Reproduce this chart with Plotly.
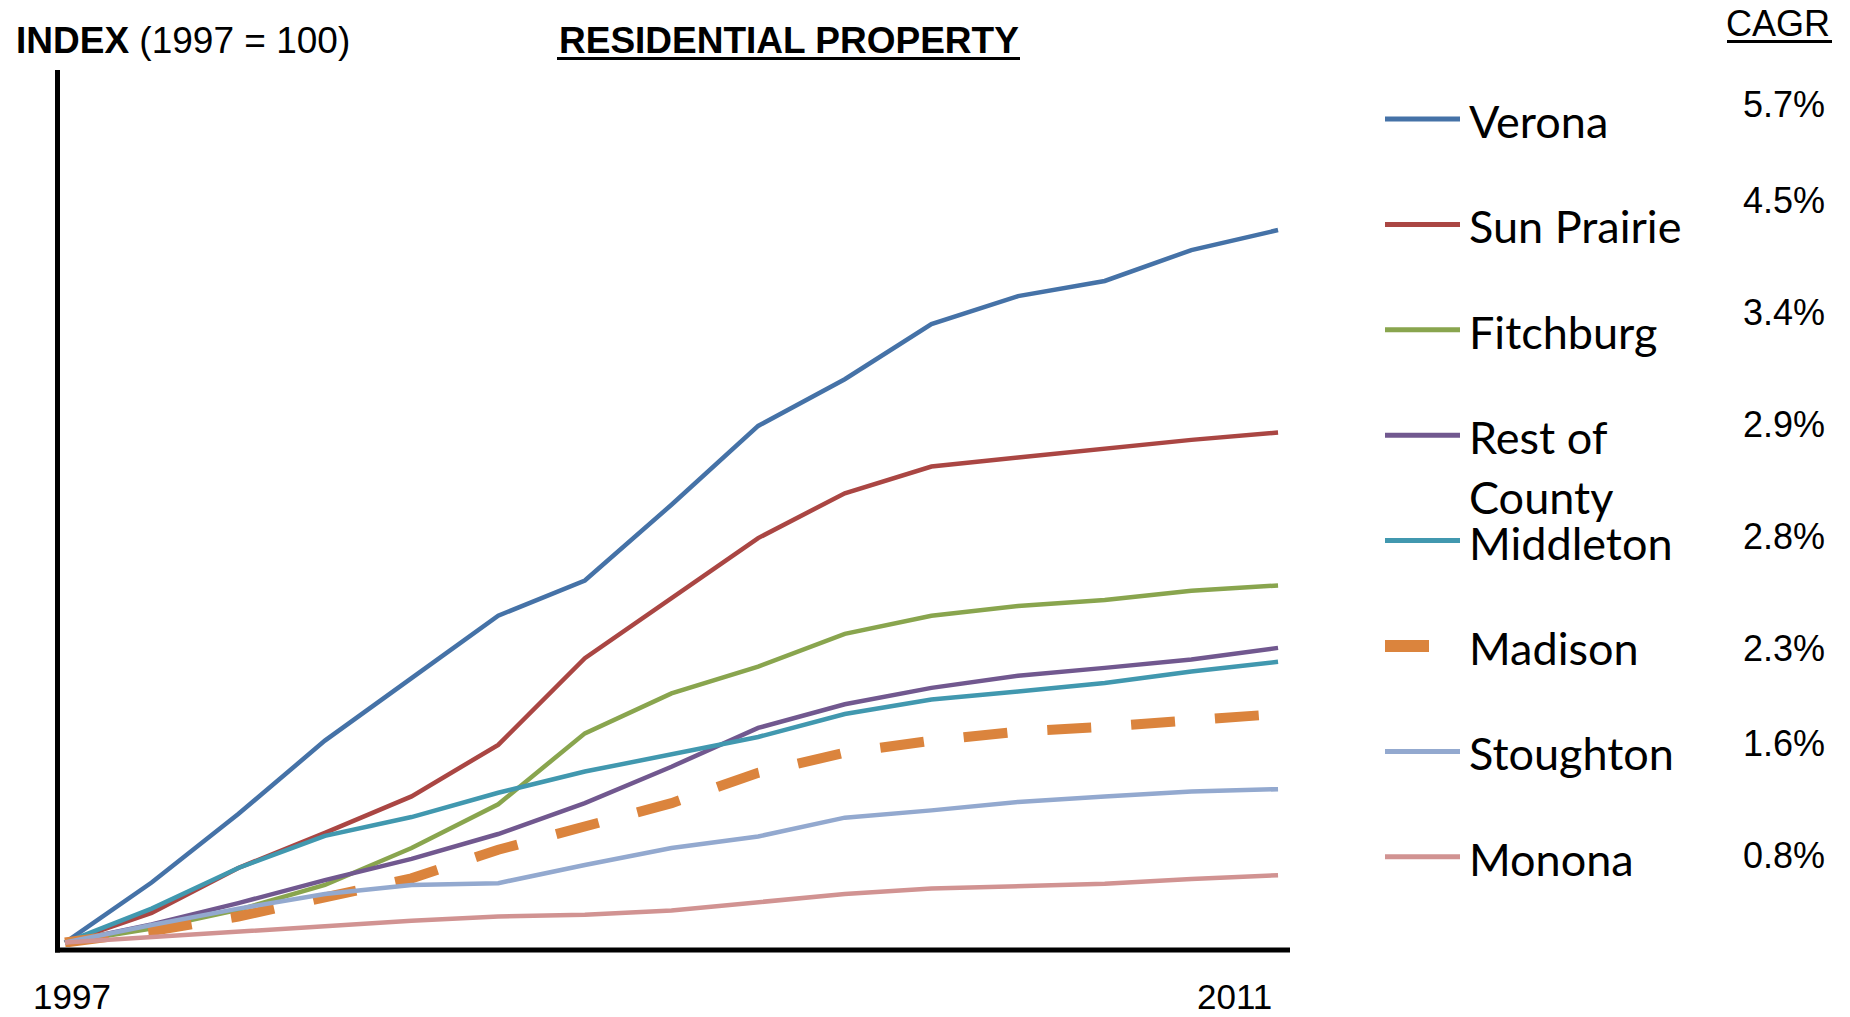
import plotly.graph_objects as go

# ---- data -------------------------------------------------------------
years = list(range(1997, 2012))
year_labels = ["1997", "2011"]

series_names = ["Verona", "Sun Prairie", "Fitchburg", "Rest of County",
                "Middleton", "Madison", "Stoughton", "Monona"]

verona = [100, 109.9, 121.2, 133.3, 143.6, 153.9, 159.7, 172.2, 185.2,
          192.9, 202.0, 206.6, 209.1, 214.2, 217.5]
sun_prairie = [100, 104.9, 112.3, 118.1, 124.1, 132.6, 146.9, 156.8, 166.7,
               174.1, 178.5, 180.0, 181.5, 182.9, 184.1]
fitchburg = [100, 102.3, 105.4, 109.5, 115.6, 122.8, 134.5, 141.1, 145.5,
             150.9, 153.9, 155.5, 156.5, 158.0, 158.9]
rest_of_county = [100, 103.0, 106.5, 110.3, 113.8, 117.9, 123.0, 129.0, 135.4,
                  139.3, 142.0, 144.0, 145.3, 146.7, 148.6]
middleton = [100, 105.6, 112.3, 117.6, 120.7, 124.7, 128.2, 131.1, 133.9,
             137.7, 140.1, 141.4, 142.8, 144.7, 146.3]
madison = [100, 101.9, 104.3, 107.6, 110.6, 115.3, 119.1, 123.0, 128.0,
           131.3, 133.3, 134.8, 135.6, 136.6, 137.7]
stoughton = [100, 102.9, 105.6, 108.0, 109.5, 109.8, 112.8, 115.6, 117.5,
             120.6, 121.8, 123.2, 124.1, 124.9, 125.3]
monona = [100, 100.9, 101.8, 102.7, 103.6, 104.3, 104.6, 105.3, 106.6,
          108.0, 108.9, 109.3, 109.7, 110.5, 111.1]

series_values = [verona, sun_prairie, fitchburg, rest_of_county,
                 middleton, madison, stoughton, monona]

# ---- styling ----------------------------------------------------------
colors = ["#4572A7", "#AA4643", "#89A54E", "#71588F",
          "#4198AF", "#DB843D", "#93A9CF", "#D19392"]
ARIAL = "Liberation Sans, Arial, sans-serif"
LEGEND_FONT = "Lato, Calibri, sans-serif"

W, H = 1850, 1017
L, R, T, B = 57, 1288, 73, 947  # plot area in pixels


def px(x):
    return (x - L) / (R - L)


def py(y):
    return (B - y) / (B - T)


fig = go.Figure()
for name, vals, col in zip(series_names, series_values, colors):
    dashed = name == "Madison"
    fig.add_trace(go.Scatter(
        x=years, y=vals, name=name, mode="lines",
        line=dict(color=col, width=10 if dashed else 4.5,
                  dash="44px,40px" if dashed else "solid"),
        showlegend=False,
    ))

shapes = []
annotations = []

# axis lines
shapes.append(dict(type="line", xref="paper", yref="paper",
                   x0=px(57.5), x1=px(57.5), y0=py(70), y1=py(952.5),
                   line=dict(color="black", width=5), layer="above"))
shapes.append(dict(type="line", xref="paper", yref="paper",
                   x0=px(55), x1=px(1290), y0=py(950), y1=py(950),
                   line=dict(color="black", width=5), layer="above"))

# headings
annotations.append(dict(text="<b>INDEX</b> (1997 = 100)", x=px(14), y=py(40),
                        xref="paper", yref="paper", xanchor="left",
                        yanchor="middle", showarrow=False,
                        font=dict(family=ARIAL, size=37, color="black")))
annotations.append(dict(text="<b>RESIDENTIAL PROPERTY</b>", x=px(788.5), y=py(40.5),
                        xref="paper", yref="paper", xanchor="center",
                        yanchor="middle", showarrow=False,
                        font=dict(family=ARIAL, size=37, color="black")))
shapes.append(dict(type="line", xref="paper", yref="paper",
                   x0=px(557), x1=px(1020), y0=py(58.5), y1=py(58.5),
                   line=dict(color="black", width=3)))
annotations.append(dict(text="CAGR", x=px(1832), y=py(23.5),
                        xref="paper", yref="paper", xanchor="right",
                        yanchor="middle", showarrow=False,
                        font=dict(family=ARIAL, size=36, color="black")))
shapes.append(dict(type="line", xref="paper", yref="paper",
                   x0=px(1727), x1=px(1832), y0=py(41.5), y1=py(41.5),
                   line=dict(color="black", width=3)))

# year labels under the axis
for lab, xs in zip(year_labels, [7, -44]):
    annotations.append(dict(text=lab, x=int(lab), y=py(996.5), xref="x",
                            yref="paper", xanchor="center", yanchor="middle",
                            xshift=xs, showarrow=False,
                            font=dict(family=ARIAL, size=35, color="black")))

# legend rows with growth rates
row_y = [119 + i * 105.4 for i in range(len(series_names))]
cagr_y = [104, 201, 312, 424, 536, 648, 743, 855]
n_years = years[-1] - years[0]
for i, (name, vals, col) in enumerate(zip(series_names, series_values, colors)):
    y = row_y[i]
    if name == "Madison":
        shapes.append(dict(type="line", xref="paper", yref="paper",
                           x0=px(1385), x1=px(1429), y0=py(y), y1=py(y),
                           line=dict(color=col, width=12)))
    else:
        shapes.append(dict(type="line", xref="paper", yref="paper",
                           x0=px(1385), x1=px(1460), y0=py(y), y1=py(y),
                           line=dict(color=col, width=5)))
    lines = ["Rest of", "County"] if name == "Rest of County" else [name]
    for k, part in enumerate(lines):
        annotations.append(dict(text=part, x=px(1467), y=py(y + 2 + 60 * k),
                                xref="paper", yref="paper", xanchor="left",
                                yanchor="middle", showarrow=False,
                                font=dict(family=LEGEND_FONT, size=45,
                                          color="black")))
    cagr = (vals[-1] / vals[0]) ** (1 / n_years) - 1
    annotations.append(dict(text=f"{cagr:.1%}", x=px(1827), y=py(cagr_y[i]),
                            xref="paper", yref="paper", xanchor="right",
                            yanchor="middle", showarrow=False,
                            font=dict(family=ARIAL, size=36, color="black")))

fig.update_layout(
    width=W, height=H, autosize=False,
    margin=dict(l=L, r=W - R, t=T, b=H - B, pad=0),
    paper_bgcolor="white", plot_bgcolor="white",
    font=dict(family=ARIAL, color="black"),
    xaxis=dict(range=[1996.908, 2011.115], visible=False, showgrid=False,
               zeroline=False, fixedrange=True),
    yaxis=dict(range=[99.27, 243.4], visible=False, showgrid=False,
               zeroline=False, fixedrange=True),
    shapes=shapes,
    annotations=annotations,
    showlegend=False,
)

fig.write_html("out.html")
